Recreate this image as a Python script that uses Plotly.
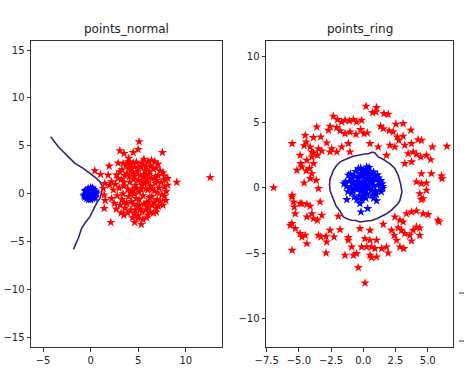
import plotly.graph_objects as go

# ---------------- data: points_normal ----------------
normal_red_x = [5.10, 3.07, 3.52, 4.47, 4.99, 7.54, 1.95, 0.45, 1.04, 1.84, 12.56, 9.05, 8.10, 7.95, 7.60,
                1.53, 1.43, 2.12, 3.48, 4.63, 5.33, 4.98, 6.03, 6.90, 7.75, 7.75, 7.83, 7.75, 1.49, 1.32,
                1.42, 2.19, 3.42, 3.94, 4.47, 5.34, 6.03, 6.73, 7.08, 3.07, 2.72, 2.90,
                3.2, 3.5, 3.8, 4.0, 4.1, 4.3, 4.4, 4.5, 4.6, 4.7, 4.8, 4.9, 5.0, 5.1, 5.2, 5.3, 5.4, 5.5,
                5.6, 5.7, 5.8, 5.9, 6.0, 6.1, 6.2, 6.3, 6.4, 6.5, 6.6, 6.7, 6.8, 7.0, 7.1, 7.2, 7.3,
                3.3, 3.6, 3.9, 4.2, 4.6, 5.0, 5.4, 5.8, 6.3, 3.4, 3.0, 2.8, 2.6, 2.5, 3.1, 3.7, 4.2, 4.8,
                5.5, 6.3, 6.9, 7.4, 7.5, 7.1, 6.6, 4.0, 4.5, 5.2, 5.6, 6.0, 4.3, 4.9, 5.6, 6.1, 3.9, 4.6,
                5.3, 5.9, 6.5, 3.6, 3.3, 4.1, 4.4, 5.0, 5.7, 6.2, 6.8, 7.0, 6.4, 5.1, 4.2, 3.5, 2.9, 4.7,
                5.5, 4.4, 5.9, 6.7, 7.3, 3.2, 3.8, 4.0, 5.6, 6.4, 2.4, 2.2, 2.0, 5.3, 4.8, 6.9, 5.8, 4.6,
                7.9, 8.1, 7.6, 6.9, 2.7, 3.5, 5.1, 6.0]
normal_red_y = [5.43, 4.49, 4.21, 4.31, 4.63, 4.31, 2.89, 2.40, 2.02, 1.95, 1.70, 1.20, 1.60, 0.25, -1.20,
                -0.70, -1.53, -3.00, -2.22, -3.00, -3.20, -2.57, -2.23, -1.53, -0.24, 0.73, 1.43, 1.85, 1.08, 0.56,
                -0.14, 1.26, 3.17, 3.34, 3.24, 3.17, 3.34, 3.34, 3.10, 2.30, 1.95, 3.20,
                1.5, 0.8, 2.1, -0.3, 1.2, 2.6, 0.4, -1.1, 1.8, 0.9, -0.5, 2.3, 1.4, 0.2, -1.6, 2.8, 0.9, -0.2,
                1.7, 2.4, 0.5, -0.9, 1.2, 2.0, -0.4, 0.8, 1.6, -1.2, 2.6, 0.3, 1.1, -0.6, 1.9, 0.6, 2.4,
                -0.6, -1.5, -2.0, -1.7, -2.1, -2.3, -1.9, -1.7, -1.9, 0.0, 0.6, -0.2, 1.0, -1.0, -1.2, 3.0, 3.0, 3.3,
                3.0, 2.9, 2.7, 1.2, -0.1, -1.3, -2.0, 2.6, 1.5, 1.9, 1.1, 0.4, -0.8, -1.3, -1.1, -0.9, 0.5, 0.0,
                0.5, 1.5, 0.5, 1.9, 2.5, 1.8, 2.2, 2.7, 2.0, 2.3, 1.8, 0.1, -0.3, -0.6, 0.1, 1.2, 1.6, -1.7,
                -2.7, -2.5, -2.5, -0.9, -0.8, -2.0, -1.0, 3.7, 3.6, 3.5, 0.4, -0.5, 0.9, 1.3, 0.6, 1.4, 2.8, 2.8,
                -0.7, 0.9, 2.2, -1.9, -1.6, -0.9, -1.2, -1.4]
normal_blue_x = [0.0, 0.3, -0.3, 0.1, -0.1, 0.4, -0.4, 0.2, -0.2, 0.5, -0.5, 0.0, 0.0, 0.6, -0.6, 0.35, -0.35,
                 0.4, -0.4, 0.15, -0.15, 0.25, -0.25, 0.1, -0.05, 0.5, -0.55, 0.2, -0.2, 0.55, -0.6, -0.7,
                 0.3, -0.1, 0.05, -0.45, 0.45, 0.0]
normal_blue_y = [0.0, 0.2, 0.1, 0.4, -0.4, -0.2, -0.3, -0.5, 0.5, 0.3, 0.2, 0.6, -0.6, 0.0, -0.1, 0.45, 0.45,
                 -0.45, -0.5, 0.1, -0.15, -0.05, 0.3, -0.25, 0.25, -0.35, 0.35, 0.6, -0.6, 0.15, -0.35, -0.2,
                 0.0, 0.05, -0.1, 0.0, 0.1, 0.3]
normal_contour_x = [-4.19, -3.39, -2.52, -1.64, -0.77, -0.07, 0.62, 0.97, 1.25, 1.15, 0.97, 0.62, 0.28, -0.07,
                    -0.49, -0.94, -1.29, -1.81]
normal_contour_y = [5.95, 4.91, 4.04, 3.17, 2.65, 2.13, 1.61, 1.26, 0.74, 0.04, -0.48, -1.00, -1.70, -2.39,
                    -2.91, -3.61, -4.65, -5.80]

# ---------------- data: points_ring ----------------
ring_red_x = [0.21, 1.03, 0.98, 0.72, 1.93, -2.32, -2.01, -1.68, -1.42, -1.08, -0.77, -0.52, -0.13, -2.58, -2.71,
              -2.06, -1.80, -1.42, -1.03, -0.57, -0.21, 0.05, 0.31, 1.34, 1.55, 2.01, 2.53, 3.09, 3.69, 2.32,
              2.63, 2.76, 3.09, 3.22, 3.74, 4.25, 4.51, -3.61, -3.30, -3.87, -4.43, -4.59, -5.52, -4.12, -3.99,
              -3.48, -3.22, -4.90, -4.38, -4.85, -4.77, -5.15, -3.99, -3.56, -3.87, -4.18, -4.43, -3.99, -2.84,
              -2.58, -2.45, -2.06, -1.68, -1.16, -1.03, 0.52, 1.16, 1.80, 2.06, 2.45, 3.48, 3.87, 4.12, 4.46,
              4.90, 5.23, 5.36, 6.49, 4.51, 5.28, 6.06, 6.11, 4.12, 4.51, 4.90, 4.90, 4.38, 4.51, -6.96, -5.52,
              -5.41, -5.36, -5.28, -4.90, -4.38, -4.12, -4.12, -3.66, -4.59, -5.54, -5.67, -5.28, -4.90, -4.77,
              -4.51, -4.38, -3.99, -3.87, -3.56, -3.22, -4.38, -5.52, -3.48, -3.30, -2.89, -2.84, -2.58, -2.27,
              -2.89, -1.93, -1.16, -1.16, -0.90, -1.42, -0.77, -0.52, -0.39, 0.13, -0.26, 0.52, 0.13, 0.52,
              0.64, 0.90, 0.52, 0.64, 1.03, 0.26, 1.55, 1.80, 1.93, 2.19, 2.40, 2.58, 2.84, 3.14, 2.45, 2.84,
              3.09, 3.35, 3.74, 4.12, 4.64, 5.03, 2.71, 2.96, 3.22, 3.61, 3.87, 4.12, 4.38, 4.38, 3.74, 4.64,
              5.80, 5.88, 3.74, 3.22, -4.51, -3.87, -3.48, -1.80, -0.13, 1.03, 1.42, 1.60, -5.54, -4.77, -3.35]
ring_red_y = [6.23, 6.13, 5.80, 5.75, 5.62, 5.47, 5.21, 5.03, 5.16, 5.11, 5.21, 5.03, 5.16, 4.70, 4.40,
              4.60, 4.35, 4.14, 4.27, 4.09, 4.45, 4.14, 4.19, 4.70, 4.52, 4.35, 4.86, 4.91, 4.40, 4.27,
              3.89, 3.63, 3.94, 3.25, 3.38, 3.68, 3.63, 4.65, 3.89, 3.84, 3.50, 3.22, 3.38, 3.12, 2.74,
              2.99, 2.82, 2.48, 2.10, 1.85, 1.59, 1.34, 2.36, 2.48, 1.85, 1.47, 1.29, 1.08, 3.43,
              2.74, 2.99, 2.74, 3.12, 3.38, 2.74, 3.38, 3.12, 2.48, 3.25, 3.12, 2.61, 2.74, 2.56, 2.36,
              2.48, 2.15, 3.12, 3.17, 1.08, 1.08, 0.90, 0.70, 0.45, 0.32, 0.37, -0.19, -0.45, -0.90, 0.01, -0.57,
              -1.08, -1.47, -1.98, -1.21, -1.26, -1.41, 0.70, 0.57, 0.37, -2.74, -2.87, -3.12, -3.50, -3.76,
              -3.63, -4.27, -1.98, -2.36, -2.48, -2.10, -2.23, -4.78, -3.63, -3.76, -3.71, -4.14, -3.25, -3.76,
              -4.98, -2.18, -3.81, -4.01, -4.52, -5.16, -5.16, -5.03, -6.10, -7.28, -3.12, -3.25, -3.89, -4.01,
              -4.52, -4.65, -5.16, -5.34, -5.29, -4.52, -2.79, -4.52, -4.98, -3.25, -3.63, -4.01, -4.52, -4.65, -2.23, -2.48,
              -2.61, -1.98, -1.85, -1.77, -1.98, -2.05, -3.05, -3.25, -3.50, -3.63, -3.25, -2.99, -3.07, -3.63, -4.06, -0.83,
              -2.48, -2.61, 1.98, 1.85, 4.01, 2.66, -0.06, -3.20, -4.52, -4.01, -4.65, 5.67, -0.70, -1.21, -1.08]
ring_blue_x = [0.0, 0.2, -0.3, 0.4, -0.2, 0.1, -0.5, 0.6, -0.6, 0.3, -0.1, 0.5, -0.4, 0.8, -0.8, 0.9, -0.9,
               0.2, -0.2, 0.7, -0.7, 0.0, 1.1, -1.0, 1.2, 0.3, 0.0, 0.6, -0.7, -1.1, 1.0, 0.4, -0.1, 0.1,
               -0.4, 0.6, -0.3, 0.2, -0.5, 0.8, 1.4, 1.5, -1.2, -1.3, 0.9, -0.9, 0.4, -0.6, 0.7, 0.3, -0.2,
               0.05, 0.5, -0.4, 1.3, 0.2, -0.1, -0.8, 1.0, -1.28, -0.26, 0.34, -0.18, 1.03, 1.50, -1.50, 0.26,
               -0.38, -1.15, 1.2, 1.35, -1.0, -0.6, 0.0, 0.5, 1.1, -1.4, 0.8, -0.2, 0.45, -0.75, 1.45, 0.1]
ring_blue_y = [0.0, 0.3, 0.2, -0.1, -0.3, 0.6, 0.5, 0.4, -0.1, -0.5, 0.9, 0.9, 0.8, 0.1, 0.3, -0.3, -0.4,
               1.2, 1.1, -0.6, -0.7, -0.6, 0.2, 0.0, -0.2, 1.4, 1.3, 1.1, 0.9, 0.5, 0.6, 0.2, 0.4, -0.2,
               -0.1, -0.2, -0.6, -0.8, -0.9, -0.8, -0.3, 0.1, -0.3, 0.1, 0.9, 0.7, 0.7, 0.2, 0.6, 0.0, 0.0,
               0.2, 0.5, 0.4, 0.4, 1.0, -0.9, -0.2, -0.5, -0.90, -1.21, -1.59, -1.85, -1.00, -0.05, 0.30, 1.59,
               1.46, 0.96, 0.75, 0.55, 1.05, 1.25, 0.95, 1.25, 1.0, 0.45, 1.2, 1.5, 1.55, 0.45, 0.3, -0.45]
ring_contour_x = [0.72, 0.45, 0.0, -0.40, -0.77, -1.10, -1.42, -1.80, -2.06, -2.32, -2.45, -2.58, -2.62, -2.58,
                  -2.45, -2.30, -2.11, -1.85, -1.55, -1.20, -0.90, -0.55, -0.26, 0.26, 0.65, 1.03, 1.40, 1.80,
                  2.15, 2.45, 2.70, 2.84, 2.96, 3.00, 2.89, 2.80, 2.71, 2.45, 2.06, 1.80, 1.60, 1.16, 0.90, 0.72]
ring_contour_y = [2.74, 2.62, 2.56, 2.50, 2.41, 2.30, 2.15, 1.98, 1.72, 1.34, 1.00, 0.70, 0.25, -0.19,
                  -0.55, -0.96, -1.40, -1.72, -2.23, -2.38, -2.48, -2.50, -2.61, -2.54, -2.50, -2.36, -2.20, -1.98,
                  -1.75, -1.47, -1.20, -0.96, -0.60, -0.32, 0.32, 0.65, 0.96, 1.47, 1.85, 2.00, 2.15, 2.36, 2.66, 2.74]

# ---------------- ticks ----------------
normal_xticks = [-5, 0, 5, 10]
normal_yticks = [-15, -10, -5, 0, 5, 10, 15]
ring_xticks = [-7.5, -5.0, -2.5, 0.0, 2.5, 5.0]
ring_yticks = [-10, -5, 0, 5, 10]

RED = "#ff0000"
BLUE = "#0000ff"
LINE = "#3b2466"
MS = 7

fig = go.Figure()
fig.add_trace(go.Scatter(x=normal_contour_x, y=normal_contour_y, mode="lines",
                         line=dict(color=LINE, width=1.6), xaxis="x", yaxis="y"))
fig.add_trace(go.Scatter(x=normal_red_x, y=normal_red_y, mode="markers",
                         marker=dict(symbol="star", size=MS, color=RED, line=dict(width=0)), xaxis="x", yaxis="y"))
fig.add_trace(go.Scatter(x=normal_blue_x, y=normal_blue_y, mode="markers",
                         marker=dict(symbol="star", size=MS, color=BLUE, line=dict(width=0)), xaxis="x", yaxis="y"))

fig.add_trace(go.Scatter(x=ring_contour_x, y=ring_contour_y, mode="lines",
                         line=dict(color=LINE, width=1.6), xaxis="x2", yaxis="y2"))
fig.add_trace(go.Scatter(x=ring_red_x, y=ring_red_y, mode="markers",
                         marker=dict(symbol="star", size=MS, color=RED, line=dict(width=0)), xaxis="x2", yaxis="y2"))
fig.add_trace(go.Scatter(x=ring_blue_x, y=ring_blue_y, mode="markers",
                         marker=dict(symbol="star", size=MS, color=BLUE, line=dict(width=0)), xaxis="x2", yaxis="y2"))

W, H = 465, 369
L_dom = [31 / W, 222 / W]
R_dom = [266 / W, 453 / W]
Y_dom = [1 - 347 / H, 1 - 41 / H]

axis_common = dict(showgrid=False, zeroline=False, showline=True, linecolor="#333333", linewidth=1,
                   mirror=True, ticks="outside", ticklen=3.5, tickwidth=1, tickcolor="#333333",
                   tickfont=dict(family="DejaVu Sans", size=10, color="#222222"), automargin=False)

fig.update_layout(
    width=W, height=H,
    margin=dict(l=0, r=0, t=0, b=0),
    paper_bgcolor="white", plot_bgcolor="white",
    showlegend=False,
    font=dict(family="DejaVu Sans", color="#222222"),
    xaxis=dict(domain=L_dom, range=[-6.26, 13.8], tickvals=normal_xticks, anchor="y", **axis_common),
    yaxis=dict(domain=Y_dom, range=[-16.0, 15.95], tickvals=normal_yticks, anchor="x", **axis_common),
    xaxis2=dict(domain=R_dom, range=[-7.55, 6.96], tickvals=ring_xticks, tickformat=".1f", anchor="y2", **axis_common),
    yaxis2=dict(domain=Y_dom, range=[-12.17, 11.22], tickvals=ring_yticks, anchor="x2", **axis_common),
    annotations=[
        dict(text="points_normal", xref="paper", yref="paper", x=sum(L_dom) / 2, y=Y_dom[1],
             xanchor="center", yanchor="bottom", yshift=3, showarrow=False,
             font=dict(family="DejaVu Sans", size=12, color="#222222")),
        dict(text="points_ring", xref="paper", yref="paper", x=sum(R_dom) / 2, y=Y_dom[1],
             xanchor="center", yanchor="bottom", yshift=3, showarrow=False,
             font=dict(family="DejaVu Sans", size=12, color="#222222")),
    ],
    shapes=[
        dict(type="line", xref="paper", yref="paper", x0=459 / W, x1=464 / W, y0=1 - 293 / H, y1=1 - 293 / H,
             line=dict(color="#333333", width=1)),
        dict(type="line", xref="paper", yref="paper", x0=459 / W, x1=464 / W, y0=1 - 341 / H, y1=1 - 341 / H,
             line=dict(color="#333333", width=1)),
    ],
)

fig.write_html("out.html", config={"displayModeBar": False},
               post_script="document.body.style.margin='0';document.body.style.overflow='hidden';")
